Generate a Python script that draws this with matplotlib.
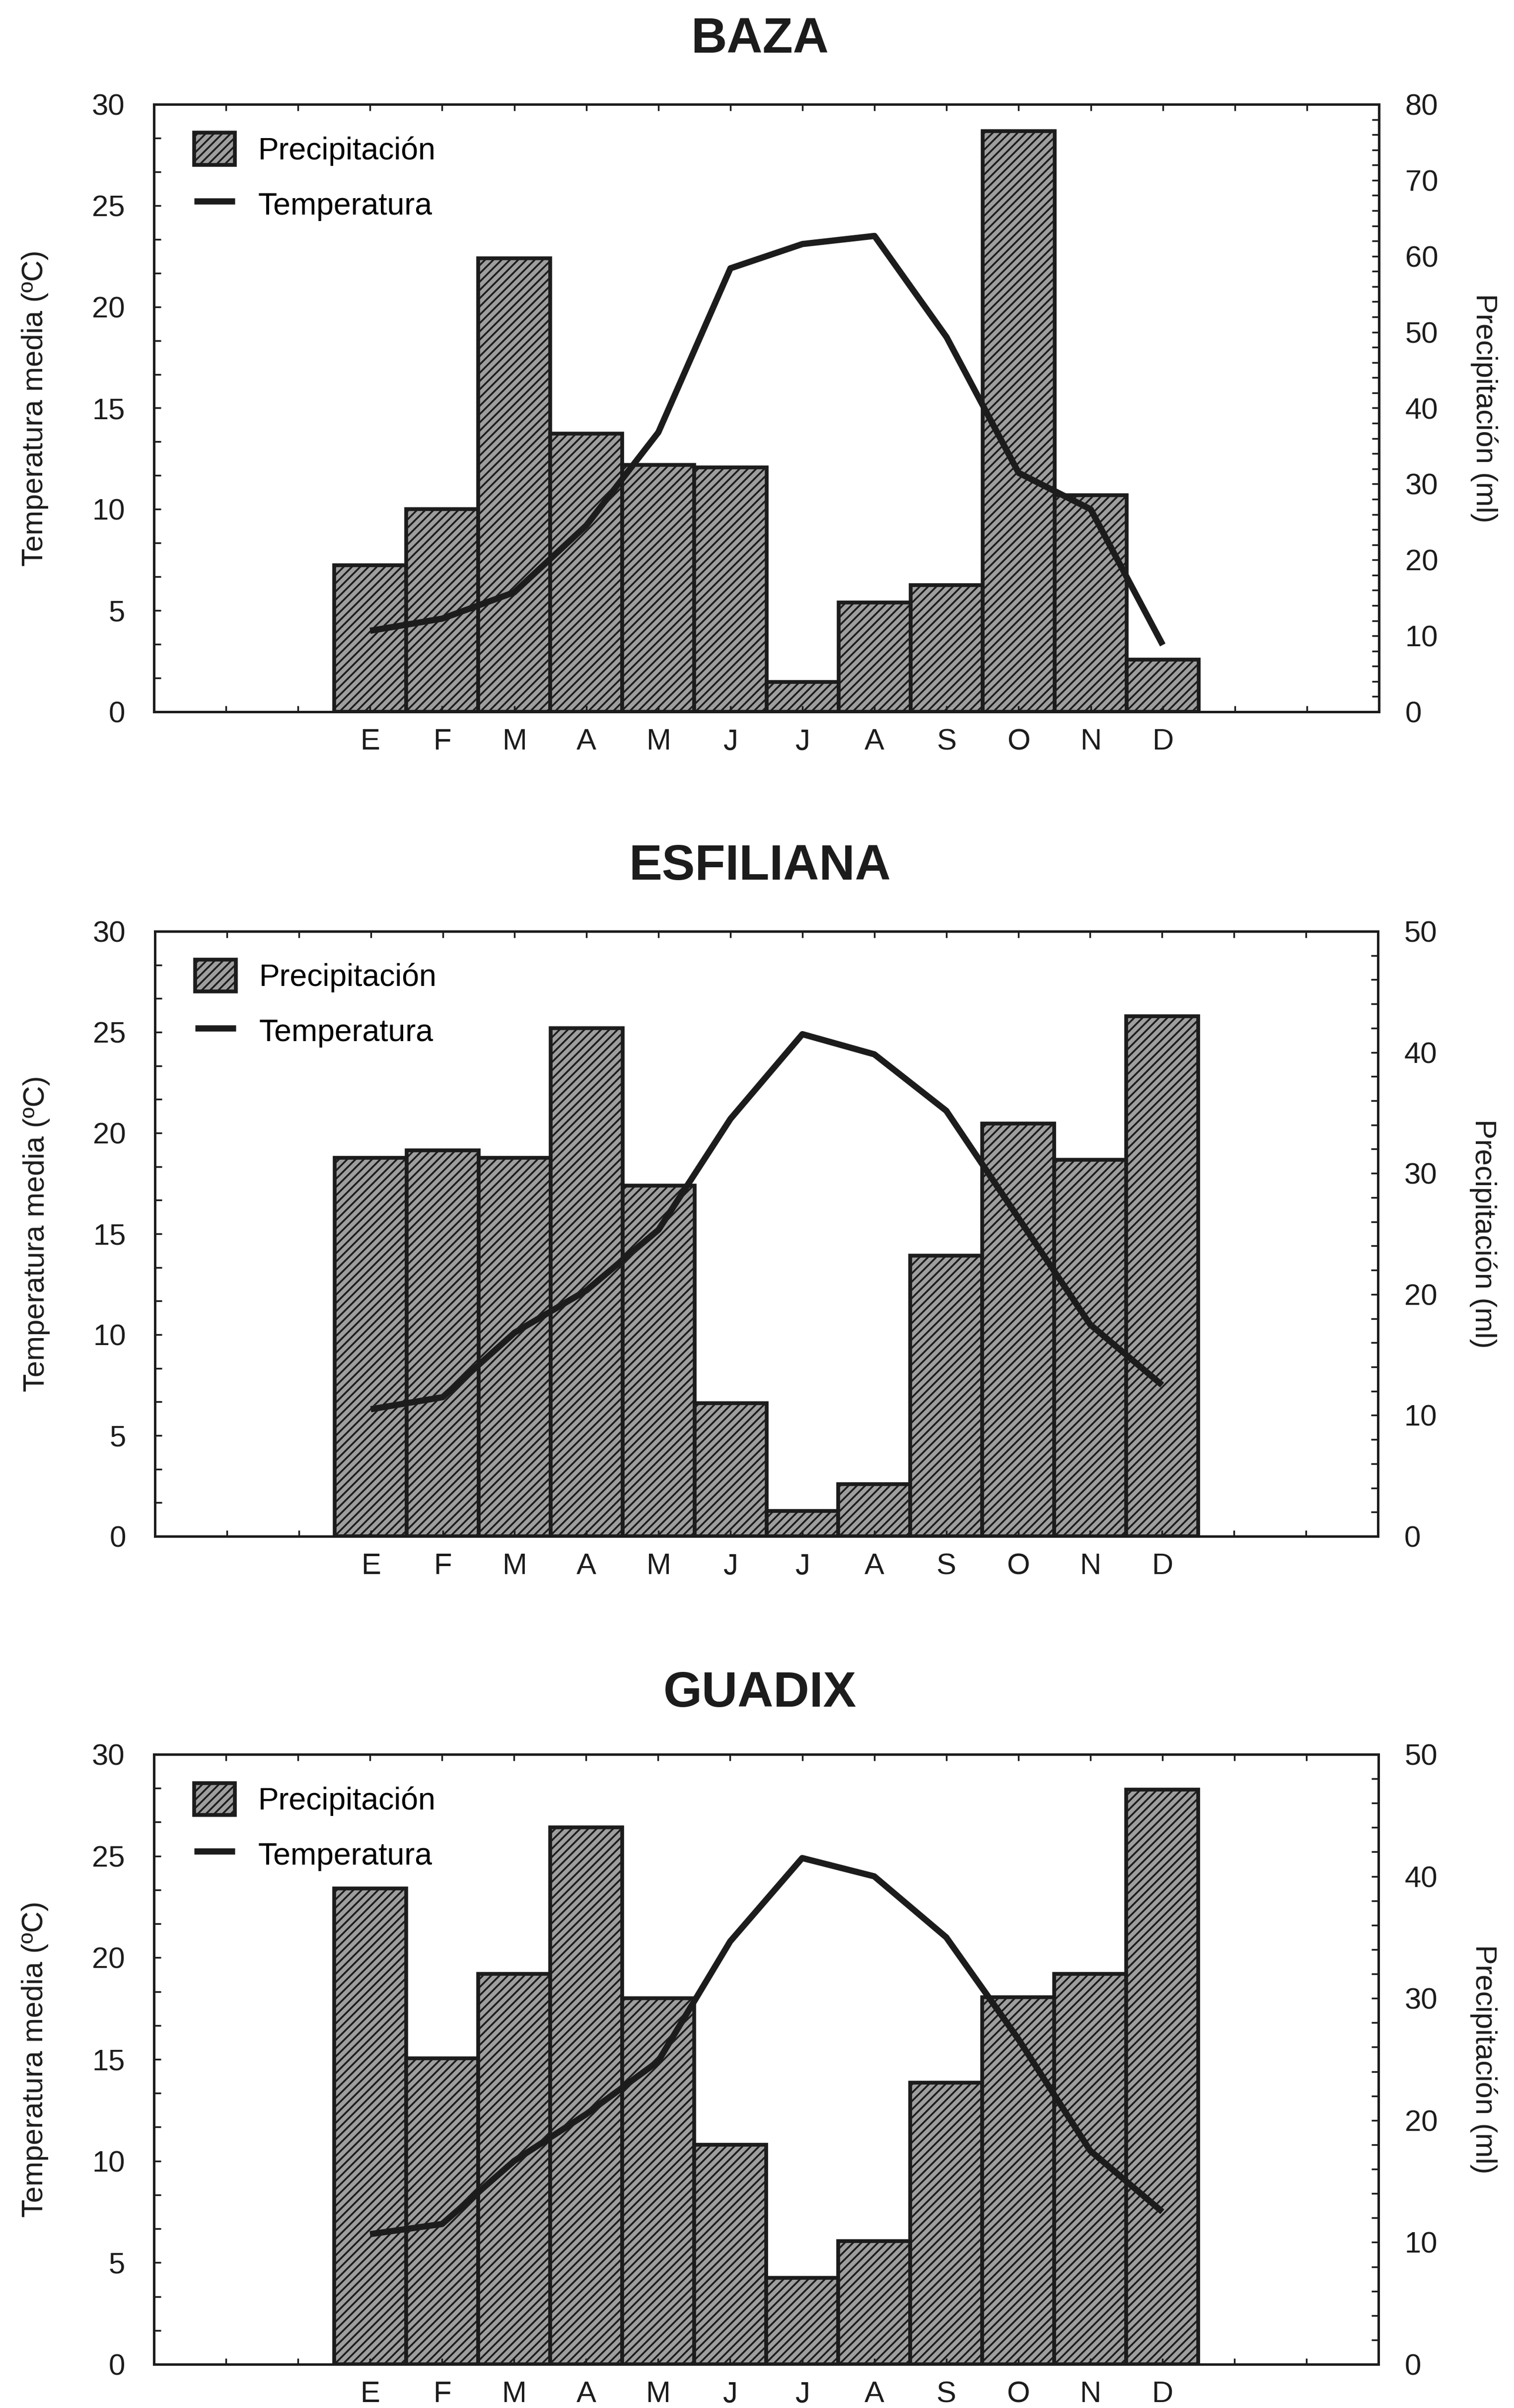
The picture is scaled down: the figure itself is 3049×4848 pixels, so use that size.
import matplotlib
matplotlib.use('Agg')
import matplotlib.pyplot as plt
from matplotlib.ticker import FixedLocator, MultipleLocator
import numpy as np

# datos
meses = ['E', 'F', 'M', 'A', 'M', 'J', 'J', 'A', 'S', 'O', 'N', 'D']
x_mes = np.arange(1, 13)

estaciones = ['BAZA', 'ESFILIANA', 'GUADIX']

baza_precip = [19.3, 26.7, 59.7, 36.6, 32.5, 32.2, 3.9, 14.4, 16.7, 76.5, 28.5, 6.9]
baza_temp = [4.0, 4.6, 5.9, 9.2, 13.8, 21.9, 23.1, 23.5, 18.5, 11.8, 10.0, 3.3]

esf_precip = [31.3, 31.9, 31.3, 42.0, 29.0, 11.0, 2.1, 4.3, 23.2, 34.1, 31.1, 43.0]
esf_temp = [6.3, 6.9, 10.1, 12.2, 15.2, 20.7, 24.9, 23.9, 21.1, 15.8, 10.5, 7.5]

gua_precip = [39.0, 25.1, 32.0, 44.0, 30.0, 18.0, 7.1, 10.1, 23.1, 30.1, 32.0, 47.1]
gua_temp = [6.4, 6.9, 10.0, 12.3, 14.9, 20.8, 24.9, 24.0, 21.0, 16.0, 10.5, 7.5]

precip_max = [80, 50, 50]
temp_max = 30

plt.rcParams['font.family'] = ['Liberation Sans', 'DejaVu Sans']
plt.rcParams['hatch.linewidth'] = 2.6

tinta = '#1c1c1c'
gris = '#9e9e9e'

W, H = 3049, 4848
fig = plt.figure(figsize=(W / 100, H / 100), dpi=100)
fig.patch.set_facecolor('white')

# cajas de los ejes en pixeles (izq, der, arriba, abajo)
cajas = [(310, 2777, 210, 1433), (312, 2775, 1875, 3093), (310, 2776, 3532, 4760)]
titulo_y = [80, 1745, 3410]

series = [(baza_precip, baza_temp), (esf_precip, esf_temp), (gua_precip, gua_temp)]

for i in range(3):
    l, r, t, b = cajas[i]
    precip, temp = series[i]
    ax = fig.add_axes([l / W, 1 - b / H, (r - l) / W, (b - t) / H])
    ax2 = ax.twinx()

    barras = ax.bar(x_mes, precip, width=1.0, color=gris, edgecolor=tinta,
                    hatch='//', linewidth=5.5)
    linea, = ax2.plot(x_mes, temp, color=tinta, lw=9, solid_capstyle='butt',
                      solid_joinstyle='round')

    ax.set_xlim(-2, 15)
    ax.set_ylim(0, precip_max[i])
    ax2.set_ylim(0, temp_max)

    # precipitacion a la derecha, temperatura a la izquierda
    ax.yaxis.tick_right()
    ax.yaxis.set_label_position('right')
    ax2.yaxis.tick_left()
    ax2.yaxis.set_label_position('left')

    ax.set_xticks(np.arange(-1, 15))
    ax.set_xticklabels([meses[k - 1] if 1 <= k <= 12 else '' for k in range(-1, 15)])
    ax.tick_params(axis='x', direction='in', top=True, bottom=True, length=9,
                   width=2.5, pad=24, labelsize=43, colors=tinta)

    ax.yaxis.set_major_locator(MultipleLocator(10))
    ax.yaxis.set_minor_locator(MultipleLocator(2))
    ax.tick_params(axis='y', which='both', direction='in', length=10, width=2.5,
                   pad=38, labelsize=43, colors=tinta)

    ax2.yaxis.set_major_locator(MultipleLocator(5))
    ax2.yaxis.set_minor_locator(FixedLocator(np.arange(0, 30.01, 5 / 3)))
    ax2.tick_params(axis='y', which='both', direction='in', length=10, width=2.5,
                    pad=42, labelsize=43, colors=tinta)

    for a in (ax, ax2):
        for s in a.spines.values():
            s.set_linewidth(3.4)
            s.set_color(tinta)

    ax2.set_ylabel('Temperatura media (ºC)', fontsize=43, color=tinta, va='center')
    ax2.yaxis.set_label_coords(-0.097, 0.5)
    ax.set_ylabel('Precipitación (ml)', fontsize=43, color=tinta, rotation=270, va='center')
    ax.yaxis.set_label_coords(1.086, 0.5)

    ax2.legend([barras, linea], ['Precipitación', 'Temperatura'], loc='upper left',
               bbox_to_anchor=(0.033, 0.953), frameon=False, fontsize=45,
               handlelength=1.3, handleheight=1.2, handletextpad=0.75,
               labelspacing=0.72, borderpad=0, borderaxespad=0)

    fig.text(0.502, 1 - titulo_y[i] / H, estaciones[i], ha='center', va='center',
             fontsize=72, fontweight='bold', color=tinta)

fig.savefig('out.png', dpi=100, facecolor='white')
